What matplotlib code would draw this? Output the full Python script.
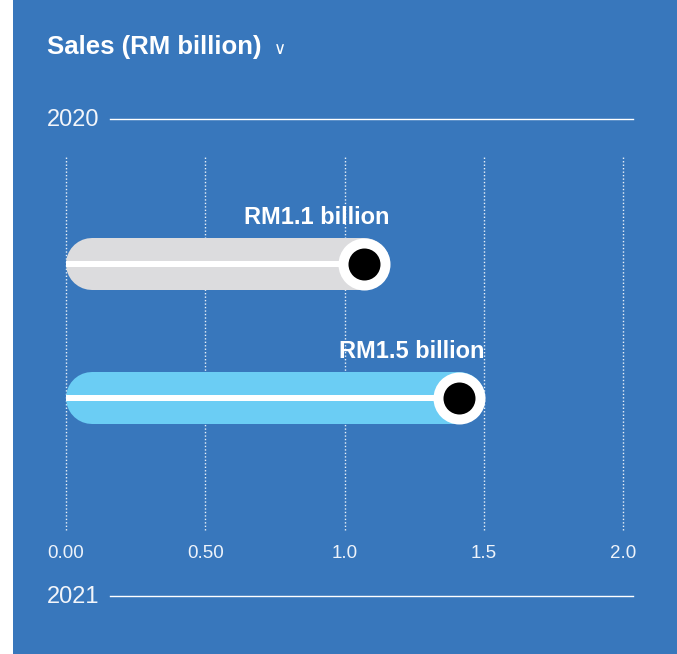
import matplotlib
matplotlib.use("Agg")
import matplotlib.pyplot as plt
from matplotlib.patches import Rectangle
from matplotlib.lines import Line2D

# ---- data ----
categories = ["2020", "2021"]
sales_values = [1.07, 1.41]          # dot positions (RM billion)
value_labels = ["RM1.1 billion", "RM1.5 billion"]
bar_colors = ["#DCDCDE", "#6BCDF4"]
tick_values = [0.0, 0.5, 1.0, 1.5, 2.0]
tick_labels = ["0.00", "0.50", "1.0", "1.5", "2.0"]
title = "Sales (RM billion)"

BLUE = "#3877BC"
W, H, DPI = 677, 654, 100

plt.rcParams["font.family"] = ["Liberation Sans", "DejaVu Sans"]

fig = plt.figure(figsize=(W / DPI, H / DPI), dpi=DPI, facecolor=BLUE)
fig.patches.append(Rectangle((0, 0), 13 / W, 1, transform=fig.transFigure,
                             facecolor="white", edgecolor="none", zorder=0))

def fx(px):
    return px / W

def fy(py):
    return 1 - py / H

ax_left, ax_right, ax_top, ax_bottom = 66, 623, 157, 530
ax = fig.add_axes([fx(ax_left), fy(ax_bottom), fx(ax_right - ax_left), (ax_bottom - ax_top) / H])
ax.set_facecolor("none")
xmin, xmax = 0.0, 2.0
ax.set_xlim(xmin, xmax)
ax.set_ylim(1.985, -0.8)
for s in ax.spines.values():
    s.set_visible(False)

ax.set_xticks(tick_values)
ax.set_xticklabels(tick_labels)
ax.tick_params(axis="x", length=0, pad=11, labelsize=13.5, labelcolor="#EEF3FA")
ax.set_yticks([])
ax.grid(axis="x", color="white", linestyle=(0, (1, 1.5)), linewidth=1.0, alpha=0.9)
for gl in ax.get_xgridlines():
    gl.set_clip_on(False)
ax.set_axisbelow(True)

bar_px = 52
pt = 72 / DPI
r_data = (bar_px / 2) / (ax_right - ax_left) * (xmax - xmin)

for i, (v, lab, col) in enumerate(zip(sales_values, value_labels, bar_colors)):
    ax.plot([xmin + r_data, v], [i, i], color=col, linewidth=bar_px * pt,
            solid_capstyle="round", zorder=3)
    ax.plot([xmin, v], [i, i], color="white", linewidth=6 * pt,
            solid_capstyle="butt", zorder=4)
    ax.scatter([v], [i], s=(bar_px * pt) ** 2, color="white", zorder=5, linewidths=0)
    ax.scatter([v], [i], s=(32 * pt) ** 2, color="black", zorder=6, linewidths=0)
    ax.annotate(lab, xy=(v, i), xytext=(bar_px / 2 * pt, 47 * pt),
                textcoords="offset points", ha="right", va="center",
                fontsize=17, fontweight="bold", color="white", zorder=7)

# title
fig.text(fx(47), fy(47), title, fontsize=18.5, fontweight="bold", color="white",
         ha="left", va="center")
fig.text(fx(274), fy(49), "\u2228", fontsize=12, color="white", ha="left",
         va="center", family=["DejaVu Sans"])

# year rows with lines
for name, ypx in zip(categories, [120, 597]):
    fig.text(fx(47), fy(ypx), name, fontsize=17, color="#F2F5FA",
             ha="left", va="center")
    fig.add_artist(Line2D([fx(110), fx(633)], [fy(ypx - 1), fy(ypx - 1)],
                          transform=fig.transFigure, color="white", linewidth=1.0))

fig.savefig("out.png", dpi=DPI, facecolor=fig.get_facecolor())
